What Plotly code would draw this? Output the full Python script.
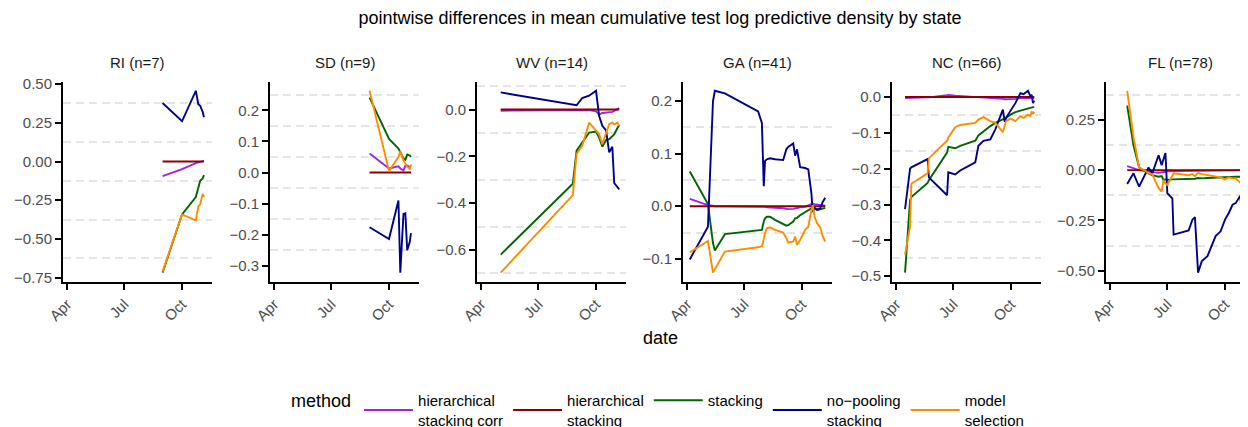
import plotly.graph_objects as go
import pandas as pd

# ---------------- data ----------------
methods = ["hierarchical stacking corr", "hierarchical stacking", "stacking",
           "no−pooling stacking", "model selection"]
legend_labels = ["hierarchical<br>stacking corr", "hierarchical<br>stacking", "stacking",
                 "no−pooling<br>stacking", "model<br>selection"]
states = ["RI", "SD", "WV", "GA", "NC", "FL"]
n_polls = [7, 9, 14, 41, 66, 78]
x_tick_dates = ["2016-04-01", "2016-07-01", "2016-10-01"]
x_tick_labels = ["Apr", "Jul", "Oct"]

ri_dates = ["2016-08-31", "2016-10-01", "2016-10-23", "2016-10-27", "2016-10-30", "2016-11-03", "2016-11-05"]
ri_hsc = [-0.095, -0.050, -0.010, -0.004, 0.000, 0.002, 0.004]
ri_hs = [0, 0, 0, 0, 0, 0, 0]
ri_stack = [-0.718, -0.342, -0.230, -0.170, -0.125, -0.110, -0.088]
ri_nopool = [0.378, 0.260, 0.457, 0.370, 0.360, 0.320, 0.286]
ri_ms = [-0.712, -0.342, -0.380, -0.290, -0.275, -0.210, -0.230]

sd_dates = ["2016-08-31", "2016-10-01", "2016-10-16", "2016-10-19", "2016-10-24", "2016-10-27",
            "2016-10-30", "2016-11-03", "2016-11-05"]
sd_hsc = [0.061, 0.013, 0.020, 0.013, 0.007, 0.022, 0.023, 0.018, 0.020]
sd_hs = [0, 0, 0, 0, 0, 0, 0, 0, 0]
sd_stack = [0.241, 0.108, 0.077, 0.066, 0.045, 0.041, 0.058, 0.055, 0.050]
sd_nopool = [-0.176, -0.214, -0.090, -0.322, -0.133, -0.131, -0.250, -0.224, -0.195]
sd_ms = [0.263, 0.005, 0.050, 0.069, 0.040, 0.030, 0.018, 0.012, 0.026]

wv_dates = ["2016-05-02", "2016-08-25", "2016-08-31", "2016-09-09", "2016-09-20", "2016-10-01",
            "2016-10-06", "2016-10-11", "2016-10-17", "2016-10-22", "2016-10-27", "2016-10-30",
            "2016-11-04", "2016-11-07"]
wv_hsc = [-0.005, -0.003, -0.002, -0.003, -0.002, -0.008, -0.022, -0.015, -0.014, -0.012,
          -0.010, -0.006, 0.000, 0.006]
wv_hs = [0, 0, 0, 0, 0, 0, 0, 0, 0, 0, 0, 0, 0, 0]
wv_stack = [-0.620, -0.317, -0.176, -0.141, -0.099, -0.094, -0.120, -0.159, -0.131, -0.127,
            -0.113, -0.106, -0.080, -0.066]
wv_nopool = [0.073, 0.021, 0.018, 0.049, 0.059, 0.080, -0.028, -0.070, -0.089, -0.183,
             -0.159, -0.314, -0.331, -0.341]
wv_ms = [-0.697, -0.366, -0.190, -0.155, -0.056, -0.089, -0.106, -0.148, -0.106, -0.063,
         -0.056, -0.063, -0.056, -0.070]

ga_dates = ["2016-04-05", "2016-05-04", "2016-05-12", "2016-05-15", "2016-05-31", "2016-07-23",
            "2016-07-29", "2016-08-01", "2016-08-03", "2016-08-06", "2016-08-11", "2016-08-19",
            "2016-09-01", "2016-09-06", "2016-09-09", "2016-09-17", "2016-09-20", "2016-09-23",
            "2016-09-28", "2016-10-06", "2016-10-11", "2016-10-16", "2016-10-18", "2016-10-21",
            "2016-10-25", "2016-10-30", "2016-11-03", "2016-11-07"]
ga_hsc = [0.014, 0.002, 0.001, 0.000, 0.000, 0.000, 0.000, -0.001, -0.001, -0.002, -0.002,
          -0.003, -0.004, -0.005, -0.0056, -0.005, -0.004, -0.004, -0.002, -0.001, 0.001,
          0.003, 0.005, 0.004, 0.003, 0.002, 0.001, 0.001]
ga_hs = [0, 0, 0, 0, 0, 0, 0, 0, 0, 0, 0, 0, 0, 0, 0, 0, 0, 0, 0, 0, 0, 0, 0, 0, 0, 0, 0, 0]
ga_stack = [0.066, 0.004, -0.070, -0.084, -0.053, -0.046, -0.045, -0.029, -0.023, -0.020,
            -0.020, -0.026, -0.034, -0.037, -0.036, -0.029, -0.023, -0.022, -0.017, -0.011,
            -0.0075, -0.004, 0.000, -0.004, -0.0075, -0.006, -0.004, -0.003]
ga_nopool = [-0.101, -0.039, 0.199, 0.219, 0.214, 0.180, 0.158, 0.038, 0.086, 0.089, 0.091,
             0.089, 0.0875, 0.108, 0.1125, 0.119, 0.096, 0.108, 0.074, 0.0725, 0.070, 0.024,
             -0.011, -0.004, -0.006, -0.004, 0.008, 0.016]
ga_ms = [-0.0875, -0.066, -0.126, -0.120, -0.086, -0.078, -0.076, -0.0625, -0.051, -0.042,
         -0.040, -0.045, -0.050, -0.061, -0.069, -0.067, -0.0575, -0.073, -0.064, -0.045,
         -0.039, -0.0075, 0.002, -0.020, -0.0325, -0.040, -0.0575, -0.067]

nc_dates = ["2016-04-15", "2016-04-23", "2016-04-25", "2016-05-21", "2016-05-23", "2016-06-21",
            "2016-06-23", "2016-07-04", "2016-07-12", "2016-08-05", "2016-08-10", "2016-08-18",
            "2016-08-29", "2016-09-06", "2016-09-18", "2016-09-21", "2016-09-23", "2016-09-30",
            "2016-10-08", "2016-10-16", "2016-10-21", "2016-10-28", "2016-11-01", "2016-11-03",
            "2016-11-05", "2016-11-07"]
nc_hsc = [-0.003, -0.002, -0.002, -0.001, -0.001, 0.005, 0.006, 0.004, 0.003, 0.002, 0.001,
          0.000, -0.001, -0.002, -0.005, -0.006, -0.006, -0.007, -0.005, -0.003, -0.003,
          -0.003, -0.003, -0.003, -0.003, -0.003]
nc_hs = [0, 0, 0, 0, 0, 0, 0, 0, 0, 0, 0, 0, 0, 0, 0, 0, 0, 0, 0, 0, 0, 0, 0, 0, 0, 0]
nc_stack = [-0.490, -0.288, -0.279, -0.240, -0.232, -0.155, -0.139, -0.143, -0.136, -0.122,
            -0.107, -0.095, -0.081, -0.072, -0.063, -0.060, -0.058, -0.049, -0.042, -0.038,
            -0.035, -0.032, -0.030, -0.029, -0.028, -0.028]
nc_nopool = [-0.313, -0.200, -0.196, -0.173, -0.224, -0.274, -0.210, -0.216, -0.205, -0.182,
             -0.136, -0.122, -0.118, -0.090, -0.035, -0.069, -0.058, -0.040, -0.017, 0.011,
             0.008, 0.0175, 0.002, 0.006, -0.017, -0.010]
nc_ms = [-0.440, -0.362, -0.242, -0.213, -0.171, -0.122, -0.113, -0.084, -0.078, -0.072,
         -0.063, -0.056, -0.067, -0.072, -0.098, -0.078, -0.067, -0.060, -0.067, -0.053,
         -0.058, -0.049, -0.053, -0.040, -0.047, -0.041]

fl_dates = ["2016-04-28", "2016-05-08", "2016-05-17", "2016-05-27", "2016-06-01", "2016-06-07",
            "2016-06-17", "2016-06-22", "2016-06-25", "2016-06-28", "2016-07-01", "2016-07-09",
            "2016-07-11", "2016-08-04", "2016-08-10", "2016-08-14", "2016-08-19", "2016-08-25",
            "2016-09-03", "2016-09-08", "2016-09-16", "2016-09-24", "2016-10-01", "2016-10-07",
            "2016-10-13", "2016-10-18", "2016-10-25", "2016-10-28", "2016-11-02", "2016-11-05",
            "2016-11-07"]
fl_hsc = [0.020, 0.008, 0.000, -0.005, -0.008, -0.010, -0.013, -0.012, -0.010, -0.008,
          -0.006, -0.005, -0.004, -0.004, -0.003, -0.003, -0.003, -0.003, -0.002, -0.002,
          -0.002, -0.002, -0.002, -0.001, -0.001, -0.001, -0.001, -0.001, -0.001, -0.001, -0.001]
fl_hs = [0, 0, 0, 0, 0, 0, 0, 0, 0, 0, 0, 0, 0, 0, 0, 0, 0, 0, 0, 0, 0, 0, 0, 0, 0, 0, 0, 0,
         0, 0, 0]
fl_stack = [0.320, 0.123, 0.013, -0.008, -0.016, -0.025, -0.033, -0.030, -0.049, -0.046,
            -0.049, -0.046, -0.046, -0.046, -0.043, -0.043, -0.039, -0.041, -0.039, -0.038,
            -0.036, -0.036, -0.036, -0.033, -0.033, -0.033, -0.033, -0.033, -0.033, -0.033, -0.033]
fl_nopool = [-0.069, -0.016, -0.082, -0.016, 0.013, -0.016, 0.074, 0.025, 0.057, 0.085,
             -0.115, -0.140, -0.320, -0.300, -0.246, -0.233, -0.509, -0.452, -0.427, -0.386,
             -0.328, -0.304, -0.246, -0.213, -0.172, -0.164, -0.128, -0.205, -0.189, -0.164, -0.160]
fl_ms = [0.394, 0.164, 0.013, -0.003, -0.016, -0.020, -0.090, -0.107, -0.049, -0.066, -0.074,
         -0.025, -0.016, -0.025, -0.020, -0.030, -0.013, -0.020, -0.025, -0.030, -0.033,
         -0.036, -0.046, -0.036, -0.041, -0.041, -0.062, -0.041, -0.036, -0.033, -0.035]

# ---------------- styling ----------------
colors = ["#A020F0", "#8B0000", "#006400", "#00008B", "#FF8C00"]
y_dticks = [0.25, 0.1, 0.2, 0.1, 0.1, 0.25]
y_formats = [".2f", ".1f", ".1f", ".1f", ".1f", ".2f"]

PAGE_W, PAGE_H = 1248, 427
OFF = 8                      # default body margin of the html page
W, H = PAGE_W - OFF, PAGE_H - OFF
FONT = "Liberation Sans, Arial, Helvetica, sans-serif"
axis_left_px = [63, 270, 477, 683, 892, 1106]   # page pixels
panel_w_px = 149
panel_top_px, panel_bot_px = 81.7, 281.7


def px_x(p):
    return (p - OFF) / W


def px_y(p):
    return (PAGE_H - p) / H


panels = [
    (ri_dates, [ri_hsc, ri_hs, ri_stack, ri_nopool, ri_ms]),
    (sd_dates, [sd_hsc, sd_hs, sd_stack, sd_nopool, sd_ms]),
    (wv_dates, [wv_hsc, wv_hs, wv_stack, wv_nopool, wv_ms]),
    (ga_dates, [ga_hsc, ga_hs, ga_stack, ga_nopool, ga_ms]),
    (nc_dates, [nc_hsc, nc_hs, nc_stack, nc_nopool, nc_ms]),
    (fl_dates, [fl_hsc, fl_hs, fl_stack, fl_nopool, fl_ms]),
]

all_dates = pd.to_datetime([d for dates, _ in panels for d in dates])
xmin, xmax = all_dates.min(), all_dates.max()
xspan = xmax - xmin
x0 = xmin - 0.05 * xspan
x1 = xmax + 0.05 * xspan
full_span = x1 - x0

fig = go.Figure()
layout = {}
ydom = [px_y(panel_bot_px), px_y(panel_top_px)]

for i, (dates, series) in enumerate(panels):
    k = "" if i == 0 else str(i + 1)
    for j, vals in enumerate(series):
        fig.add_trace(go.Scatter(
            x=dates, y=vals, mode="lines", name=legend_labels[j],
            line=dict(color=colors[j], width=1.9),
            xaxis="x" + k, yaxis="y" + k,
            showlegend=(i == 0), legendgroup=methods[j],
        ))
    left = axis_left_px[i]
    right = min(left + panel_w_px, PAGE_W)
    frac = (right - left) / panel_w_px
    xr_end = x0 + full_span * frac
    vals_all = [v for s in series for v in s]
    ymn, ymx = min(vals_all), max(vals_all)
    ypad = 0.05 * (ymx - ymn)
    d = y_dticks[i]
    layout["xaxis" + k] = dict(
        domain=[px_x(left), min(px_x(right), 1.0)], anchor="y" + k, type="date",
        range=[str(x0), str(xr_end)],
        tickmode="array", tickvals=x_tick_dates, ticktext=x_tick_labels,
        tickangle=-45, showgrid=False, zeroline=False,
        showline=True, linecolor="black", linewidth=2,
        ticks="outside", ticklen=6, tickwidth=1.8, tickcolor="black",
        tickfont=dict(size=15, color="#4D4D4D", family=FONT),
    )
    layout["yaxis" + k] = dict(
        domain=ydom, anchor="x" + k, range=[ymn - ypad, ymx + ypad],
        tickmode="linear", tick0=0, dtick=d, tickformat=y_formats[i],
        showgrid=False, zeroline=False,
        showline=True, linecolor="black", linewidth=2,
        ticks="outside", ticklen=6, tickwidth=1.8, tickcolor="black",
        tickfont=dict(size=15, color="#4D4D4D", family=FONT),
        minor=dict(tickmode="linear", tick0=d / 2, dtick=d, ticks="", showgrid=True,
                   gridcolor="#E5E5E5", gridwidth=1.6, griddash="8px,5px"),
    )

annotations = []
for i, st in enumerate(states):
    cx = px_x(axis_left_px[i] + panel_w_px / 2)
    annotations.append(dict(
        text=f"{st} (n={n_polls[i]})", x=cx, y=px_y(62), xref="paper", yref="paper",
        xanchor="center", yanchor="middle", showarrow=False,
        font=dict(size=15, color="#1A1A1A", family=FONT)))
annotations.append(dict(
    text="date", x=px_x(660), y=px_y(338), xref="paper", yref="paper",
    xanchor="center", yanchor="middle", showarrow=False,
    font=dict(size=18, color="black", family=FONT)))

fig.update_layout(
    width=W, height=H,
    margin=dict(l=0, r=0, t=0, b=0, autoexpand=False),
    paper_bgcolor="white", plot_bgcolor="white",
    font=dict(family=FONT, color="black"),
    title=dict(text="pointwise differences in mean cumulative test log predictive density by state",
               x=px_x(660), xanchor="center", y=px_y(18), yanchor="middle", yref="container",
               font=dict(size=18, color="black", family=FONT)),
    legend=dict(orientation="h", x=px_x(289), xanchor="left", y=px_y(410), yanchor="middle",
                title=dict(text="method", side="left", font=dict(size=18, color="black", family=FONT)),
                font=dict(size=15, color="black", family=FONT), itemwidth=49,
                bgcolor="rgba(0,0,0,0)", traceorder="normal"),
    annotations=annotations,
    **layout,
)

fig.write_html("out.html")
